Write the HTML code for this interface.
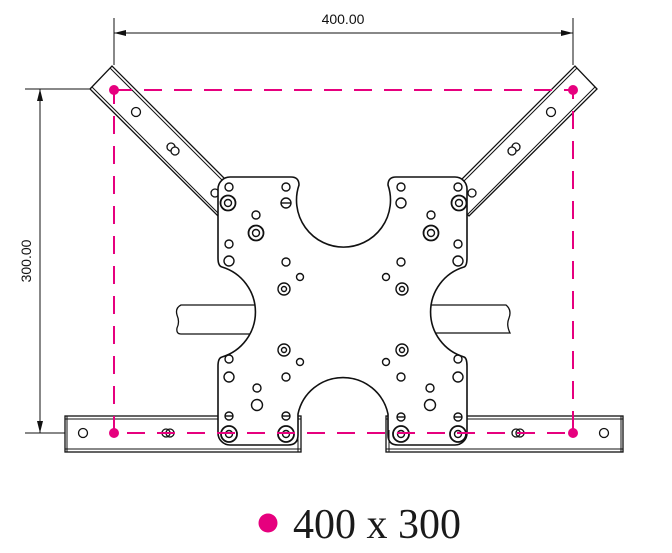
<!DOCTYPE html>
<html><head><meta charset="utf-8"><style>
html,body{margin:0;padding:0;background:#fff;}
svg{display:block;}
</style></head><body>
<svg width="672" height="553" viewBox="0 0 672 553" xmlns="http://www.w3.org/2000/svg">
<defs>
<g id="arm">
  <polygon points="90,89 112,66 240,194 218,216" fill="#fff" stroke="#111" stroke-width="1.3"/>
  <line x1="110" y1="68" x2="238" y2="196" stroke="#111" stroke-width="1"/>
  <line x1="92" y1="87" x2="220" y2="215" stroke="#111" stroke-width="1"/>
  <circle cx="136" cy="112" r="4.5" fill="#fff" stroke="#111" stroke-width="1.3"/>
  <circle cx="171" cy="147" r="4" fill="#fff" stroke="#111" stroke-width="1.3"/>
  <circle cx="175" cy="151" r="4" fill="#fff" stroke="#111" stroke-width="1.3"/>
  <circle cx="215" cy="193" r="4" fill="#fff" stroke="#111" stroke-width="1.3"/>
</g>
</defs>
<g fill="none" stroke="#111" stroke-width="1.3">
<!-- arms -->
<use href="#arm"/>
<use href="#arm" transform="translate(687,0) scale(-1,1)"/>
<!-- brackets -->
<rect x="65" y="416" width="236" height="36" fill="#fff"/>
<line x1="65" y1="419" x2="301" y2="419" stroke-width="1"/>
<line x1="65" y1="449" x2="301" y2="449" stroke-width="1"/>
<line x1="67" y1="416" x2="67" y2="452" stroke-width="1"/>
<rect x="386" y="416" width="237" height="36" fill="#fff"/>
<line x1="386" y1="419" x2="623" y2="419" stroke-width="1"/>
<line x1="386" y1="449" x2="623" y2="449" stroke-width="1"/>
<line x1="621" y1="416" x2="621" y2="452" stroke-width="1"/>
<circle cx="83" cy="433" r="4.5"/>
<circle cx="166" cy="433" r="4"/><circle cx="170" cy="433" r="4"/>
<circle cx="516" cy="433" r="4"/><circle cx="520" cy="433" r="4"/>
<circle cx="604" cy="433" r="4.5"/>
<!-- rails -->
<path d="M262,305 H181 Q175,308 177,315 Q180,322 177,328 Q176,334 181,334 H262" fill="#fff"/>
<path d="M425,305 H506 Q512,310 509,318 Q506,325 510,333 H425" fill="#fff"/>
<!-- plate -->
<path d="M218,189 A12 12 0 0 1 230,177 H291 Q299,177 299,185 A47 47 0 1 0 388,185 Q388,177 396,177 H455 A12 12 0 0 1 467,189 V258 Q467,266 464,267 A47 47 0 0 0 464,357 Q467,358 467,366 V433 A12 12 0 0 1 455,445 H398 Q388,445 388,435 V414 A46 46 0 0 0 298,414 V435 Q298,445 288,445 H230 A12 12 0 0 1 218,433 V366 Q218,358 222,357 A47 47 0 0 0 222,267 Q218,266 218,258 Z" fill="#fff" stroke-width="1.6"/>
<line x1="301" y1="416" x2="301" y2="452" stroke-width="1"/>
<line x1="298" y1="430" x2="298" y2="452" stroke-width="1"/>
<line x1="386" y1="416" x2="386" y2="452" stroke-width="1"/>
<line x1="389" y1="430" x2="389" y2="452" stroke-width="1"/>
<!-- holes -->
<g stroke-width="1.4">
<circle cx="229" cy="187" r="4"/><circle cx="458" cy="187" r="4"/>
<circle cx="256" cy="215" r="4"/><circle cx="431" cy="215" r="4"/>
<circle cx="286" cy="187" r="4"/><circle cx="401" cy="187" r="4"/>
<circle cx="286" cy="203" r="5"/><line x1="281" y1="203" x2="291" y2="203"/>
<circle cx="401" cy="203" r="5"/>
<circle cx="228" cy="203" r="7.5" stroke-width="1.8"/><circle cx="228" cy="203" r="3.5"/>
<circle cx="459" cy="203" r="7.5" stroke-width="1.8"/><circle cx="459" cy="203" r="3.5"/>
<circle cx="256" cy="233" r="7.5" stroke-width="1.8"/><circle cx="256" cy="233" r="3.5"/>
<circle cx="431" cy="233" r="7.5" stroke-width="1.8"/><circle cx="431" cy="233" r="3.5"/>
<circle cx="229" cy="244" r="4"/><circle cx="458" cy="244" r="4"/>
<circle cx="229" cy="261" r="5"/><circle cx="458" cy="261" r="5"/>
<circle cx="286" cy="262" r="4"/><circle cx="401" cy="262" r="4"/>
<circle cx="300" cy="277" r="3.5"/><circle cx="386" cy="277" r="3.5"/>
<circle cx="284" cy="289" r="6"/><circle cx="284" cy="289" r="2.5"/>
<circle cx="402" cy="289" r="6"/><circle cx="402" cy="289" r="2.5"/>
<circle cx="284" cy="350" r="6"/><circle cx="284" cy="350" r="2.5"/>
<circle cx="402" cy="350" r="6"/><circle cx="402" cy="350" r="2.5"/>
<circle cx="300" cy="362" r="3.5"/><circle cx="386" cy="362" r="3.5"/>
<circle cx="229" cy="359" r="4"/><circle cx="458" cy="359" r="4"/>
<circle cx="229" cy="377" r="5"/><circle cx="458" cy="377" r="5"/>
<circle cx="286" cy="377" r="4"/><circle cx="401" cy="377" r="4"/>
<circle cx="257" cy="388" r="4"/><circle cx="430" cy="388" r="4"/>
<circle cx="257" cy="405" r="5.5"/><circle cx="430" cy="405" r="5.5"/>
<circle cx="229" cy="416" r="4"/><line x1="225" y1="416" x2="233" y2="416"/>
<circle cx="286" cy="416" r="4"/><line x1="282" y1="416" x2="290" y2="416"/>
<circle cx="401" cy="417" r="4"/><line x1="397" y1="417" x2="405" y2="417"/>
<circle cx="458" cy="417" r="4"/><line x1="454" y1="417" x2="462" y2="417"/>
<circle cx="229" cy="434" r="8" stroke-width="1.8"/><circle cx="229" cy="434" r="3.5"/>
<circle cx="286" cy="434" r="8" stroke-width="1.8"/><circle cx="286" cy="434" r="3.5"/>
<circle cx="401" cy="434" r="8" stroke-width="1.8"/><circle cx="401" cy="434" r="3.5"/>
<circle cx="458" cy="434" r="8" stroke-width="1.8"/><circle cx="458" cy="434" r="3.5"/>
</g>
</g>
<!-- pink dashed -->
<rect x="114" y="90" width="459" height="343" fill="none" stroke="#e6007e" stroke-width="2" stroke-dasharray="18 12"/>
<g fill="#e6007e">
<circle cx="114" cy="90" r="5"/><circle cx="573" cy="90" r="5"/>
<circle cx="114" cy="433" r="5"/><circle cx="573" cy="433" r="5"/>
</g>
<!-- dimensions -->
<g stroke="#111" stroke-width="1">
<line x1="114" y1="18" x2="114" y2="65"/>
<line x1="573" y1="18" x2="573" y2="65"/>
<line x1="114" y1="33" x2="573" y2="33"/>
<line x1="25" y1="89" x2="90" y2="89"/>
<line x1="25" y1="433" x2="65" y2="433"/>
<line x1="40" y1="89" x2="40" y2="433"/>
</g>
<g fill="#111">
<polygon points="114,33 126,30 126,36"/>
<polygon points="573,33 561,30 561,36"/>
<polygon points="40,89 37,101 43,101"/>
<polygon points="40,433 37,421 43,421"/>
</g>
<text x="343" y="24" font-family="Liberation Sans, sans-serif" font-size="14" text-anchor="middle" fill="#111">400.00</text>
<text transform="translate(31,261) rotate(-90)" font-family="Liberation Sans, sans-serif" font-size="14" text-anchor="middle" fill="#111">300.00</text>
<!-- legend -->
<circle cx="268" cy="523" r="9.5" fill="#e6007e"/>
<text x="293" y="538" font-family="Liberation Serif, serif" font-size="42" fill="#1a1a1a">400 x 300</text>
</svg>
</body></html>
